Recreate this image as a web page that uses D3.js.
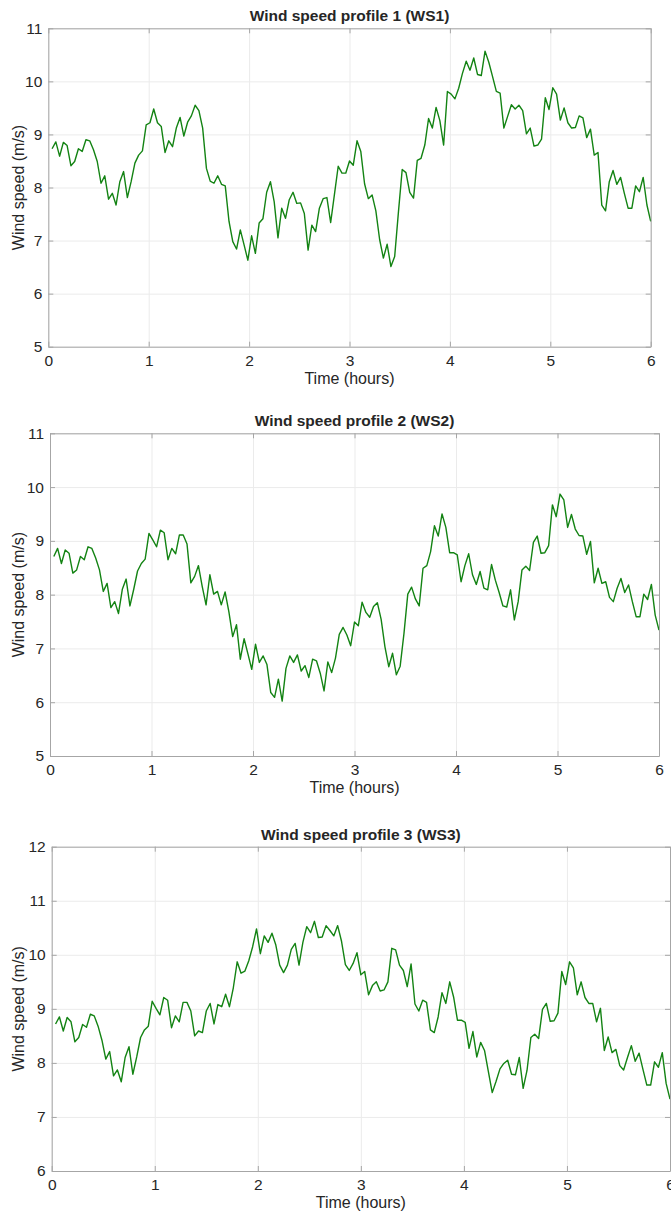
<!DOCTYPE html>
<html lang="en">
  <head>
    <meta charset="utf-8">
    <title>Wind speed profiles</title>
    <script src="https://cdn.jsdelivr.net/npm/d3@7"></script>
    <style>
      body { margin: 0; background: #fff; }
      text { font-family: "Liberation Sans", Arial, Helvetica, sans-serif; fill: #262626; }
    </style>
  </head>
  <body>
    <div id="main"></div>
  </body>

  <script type="text/javascript">

    // wind speed (m/s), 160 samples over 6 hours
    const ws1 = [8.73,8.86,8.59,8.85,8.79,8.41,8.49,8.73,8.68,8.90,8.88,8.71,8.49,8.08,8.22,7.78,7.89,7.67,8.11,8.30,
      7.81,8.11,8.46,8.61,8.69,9.18,9.22,9.48,9.22,9.15,8.66,8.88,8.77,9.12,9.32,8.97,9.23,9.35,9.55,9.45,
      9.12,8.36,8.12,8.08,8.22,8.06,8.03,7.36,6.98,6.84,7.20,6.92,6.63,7.09,6.76,7.33,7.41,7.91,8.11,7.73,
      7.05,7.61,7.42,7.77,7.91,7.70,7.71,7.51,6.82,7.29,7.17,7.61,7.79,7.81,7.34,7.87,8.40,8.27,8.27,8.50,
      8.42,8.88,8.68,8.07,7.79,7.86,7.56,7.02,6.67,6.93,6.51,6.70,7.54,8.34,8.28,7.91,7.80,8.51,8.55,8.80,
      9.30,9.12,9.51,9.26,8.80,9.81,9.76,9.67,9.87,10.15,10.38,10.21,10.44,10.13,10.11,10.57,10.36,10.09,9.81,9.78,
      9.12,9.34,9.56,9.48,9.55,9.45,9.01,9.12,8.78,8.80,8.91,9.69,9.47,9.88,9.76,9.27,9.50,9.22,9.12,9.13,
      9.35,9.31,8.94,9.10,8.61,8.66,7.67,7.56,8.11,8.32,8.06,8.19,7.89,7.61,7.61,8.03,7.92,8.19,7.67,7.36];

    const ws2 = [8.71,8.86,8.58,8.83,8.77,8.40,8.46,8.71,8.65,8.89,8.86,8.68,8.46,8.06,8.21,7.76,7.87,7.65,8.10,8.29,
      7.79,8.10,8.44,8.58,8.66,9.14,9.02,8.89,9.20,9.15,8.65,8.86,8.76,9.11,9.11,8.94,8.22,8.34,8.54,8.15,
      7.81,8.37,8.01,8.06,7.81,8.05,7.68,7.22,7.44,6.80,7.18,6.90,6.61,7.08,6.74,6.86,6.70,6.18,6.09,6.43,
      6.02,6.63,6.86,6.74,6.88,6.58,6.68,6.46,6.80,6.77,6.54,6.21,6.75,6.55,6.82,7.26,7.39,7.25,7.05,7.49,
      7.42,7.86,7.67,7.58,7.78,7.85,7.54,7.03,6.66,6.91,6.51,6.67,7.28,8.01,8.14,7.92,7.79,8.49,8.54,8.80,
      9.28,9.09,9.50,9.25,8.78,8.78,8.74,8.24,8.54,8.76,8.37,8.19,8.43,8.12,8.09,8.56,8.27,8.04,7.79,7.77,
      8.09,7.53,7.87,8.46,8.53,8.45,8.97,9.09,8.77,8.78,8.91,9.67,9.45,9.87,9.76,9.25,9.49,9.22,9.10,9.09,
      8.75,8.99,8.22,8.49,8.21,8.24,7.95,7.87,8.12,8.30,8.04,8.18,7.87,7.59,7.59,8.01,7.91,8.19,7.62,7.34];

    const ws3 = [8.72,8.85,8.59,8.84,8.76,8.39,8.47,8.71,8.66,8.90,8.87,8.68,8.42,8.07,8.21,7.76,7.87,7.65,8.10,8.30,
      7.79,8.11,8.47,8.61,8.68,9.14,9.01,8.89,9.21,9.16,8.65,8.87,8.76,9.12,9.12,8.96,8.50,8.59,8.56,8.96,
      9.10,8.72,9.08,9.04,9.27,9.04,9.39,9.87,9.66,9.70,9.89,10.15,10.48,10.02,10.35,10.23,10.40,10.18,9.81,9.67,
      9.81,10.10,10.21,9.81,10.23,10.52,10.41,10.62,10.32,10.33,10.54,10.45,10.35,10.54,10.25,9.82,9.71,9.84,10.04,9.63,
      9.69,9.26,9.43,9.50,9.33,9.35,9.50,10.12,10.09,9.81,9.71,9.41,9.83,9.09,8.96,9.16,9.12,8.61,8.56,8.85,
      9.30,9.10,9.50,9.22,8.79,8.79,8.75,8.27,8.58,8.11,8.38,8.23,7.84,7.45,7.66,7.89,7.99,8.05,7.79,7.78,
      8.10,7.53,7.86,8.47,8.53,8.45,8.99,9.10,8.77,8.78,8.92,9.69,9.45,9.87,9.76,9.26,9.50,9.21,9.10,9.10,
      8.76,9.01,8.23,8.48,8.19,8.25,7.95,7.87,8.10,8.32,8.03,8.18,7.88,7.59,7.59,8.02,7.92,8.19,7.62,7.33];

    const titles = ["Wind speed profile 1 (WS1)", "Wind speed profile 2 (WS2)", "Wind speed profile 3 (WS3)"];
    const yDomains = [[5, 11], [5, 11], [6, 12]];
    const xTicks = [0, 1, 2, 3, 4, 5, 6];
    const series = [ws1, ws2, ws3];

    // sample times in hours
    const dt = 6 / 160;
    const hours = ws1.map((d, i) => (i + 1) * dt);

    // plot boxes (page pixels)
    const boxes = [
      {left: 48.3, right: 650.7, top: 28.3, bottom: 346.7},
      {left: 50, right: 659, top: 433.3, bottom: 756},
      {left: 51.7, right: 670, top: 846.7, bottom: 1171}
    ];

    const svg = d3.select("#main").append("svg")
      .attr("width", 671)
      .attr("height", 1215);

    const boxColor = "#a6a6a6";
    const gridColor = "#ebebeb";
    const lineColor = "#138313";
    const fmt = d3.format("d");

    series.forEach((values, k) => {
      const b = boxes[k];
      const w = b.right - b.left, h = b.bottom - b.top;

      const x = d3.scaleLinear().domain([0, 6]).range([0, w]);
      const y = d3.scaleLinear().domain(yDomains[k]).range([h, 0]);
      const yTicks = d3.range(yDomains[k][0], yDomains[k][1] + 1);

      const g = svg.append("g").attr("transform", `translate(${b.left},${b.top})`);

      // grid
      g.append("g")
        .attr("transform", `translate(0,${h})`)
        .call(d3.axisBottom(x).tickValues(xTicks).tickSize(-h).tickFormat(""))
        .call(a => a.select(".domain").remove())
        .call(a => a.selectAll("line").attr("stroke", gridColor));
      g.append("g")
        .call(d3.axisLeft(y).tickValues(yTicks).tickSize(-w).tickFormat(""))
        .call(a => a.select(".domain").remove())
        .call(a => a.selectAll("line").attr("stroke", gridColor));

      // data line
      const line = d3.line()
        .x((d, i) => x(hours[i]))
        .y(d => y(d));
      g.append("path")
        .datum(values)
        .attr("fill", "none")
        .attr("stroke", lineColor)
        .attr("stroke-width", 1.4)
        .attr("stroke-linejoin", "round")
        .attr("d", line);

      // axes with inward ticks on all four sides
      const styleAxis = a => {
        a.select(".domain").attr("stroke", boxColor);
        a.selectAll(".tick line").attr("stroke", boxColor);
        a.selectAll("text").attr("font-size", "15.5px").style("fill", "#262626")
          .attr("font-family", "'Liberation Sans', Arial, sans-serif");
      };
      g.append("g")
        .attr("transform", `translate(0,${h})`)
        .call(d3.axisBottom(x).tickValues(xTicks).tickFormat(fmt).tickSizeInner(-5).tickSizeOuter(0).tickPadding(8))
        .call(styleAxis);
      g.append("g")
        .call(d3.axisTop(x).tickValues(xTicks).tickSizeInner(-5).tickSizeOuter(0).tickFormat(""))
        .call(styleAxis);
      g.append("g")
        .call(d3.axisLeft(y).tickValues(yTicks).tickFormat(fmt).tickSizeInner(-5).tickSizeOuter(0).tickPadding(6))
        .call(styleAxis);
      g.append("g")
        .attr("transform", `translate(${w},0)`)
        .call(d3.axisRight(y).tickValues(yTicks).tickSizeInner(-5).tickSizeOuter(0).tickFormat(""))
        .call(styleAxis);

      // labels
      g.append("text")
        .attr("x", w / 2).attr("y", -7)
        .attr("text-anchor", "middle")
        .attr("font-size", "15.5px").attr("font-weight", "bold")
        .text(titles[k]);
      g.append("text")
        .attr("x", w / 2).attr("y", h + 37)
        .attr("text-anchor", "middle")
        .attr("font-size", "16px")
        .text("Time (hours)");
      g.append("text")
        .attr("transform", `translate(${24 - b.left},${h / 2}) rotate(-90)`)
        .attr("text-anchor", "middle")
        .attr("font-size", "16px")
        .text("Wind speed (m/s)");
    });

  </script>
</html>
